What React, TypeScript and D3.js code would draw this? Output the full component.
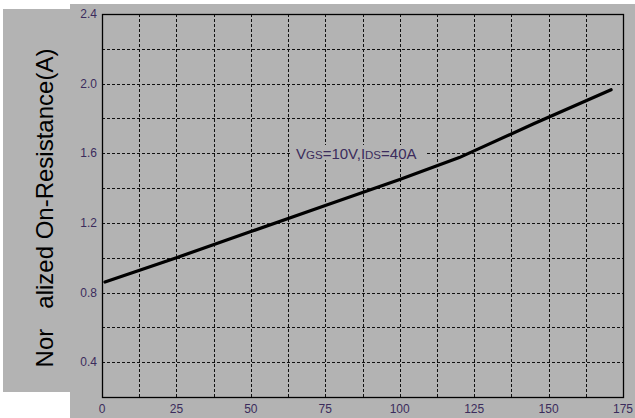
import React, { useEffect, useRef } from 'react';
import * as d3 from 'd3';

// data
const tempC = [1, 25, 50, 75, 100, 120, 145, 171];
const rdsNorm = [0.86, 1.0, 1.15, 1.3, 1.45, 1.575, 1.77, 1.965];
const xTicks = [0, 25, 50, 75, 100, 125, 150, 175];
const yTicks = [0.4, 0.8, 1.2, 1.6, 2.0, 2.4];
const xGrid = d3.range(0, 175.1, 12.5);
const yGrid = d3.range(0.2, 2.41, 0.2);

const W = 635;
const H = 418;
const m = { left: 102, top: 14, right: 623, bottom: 397 };
const bg = '#b3b3b3';
const labelColor = '#3b2c5c';

const App = () => {
  const svgRef = useRef<SVGSVGElement | null>(null);

  useEffect(() => {
    if (!svgRef.current) return;
    const svg = d3.select(svgRef.current);
    svg.selectAll('*').remove();

    const x = d3.scaleLinear().domain([0, 175]).range([m.left, m.right]);
    const y = d3.scaleLinear().domain([0.2, 2.4]).range([m.bottom, m.top]);

    // gray panels
    svg.append('rect').attr('x', 0).attr('y', 0).attr('width', W).attr('height', H).attr('fill', '#fff');
    svg.append('rect').attr('x', 70).attr('y', 4).attr('width', W - 70).attr('height', H - 4).attr('fill', bg);
    svg.append('rect').attr('x', 3).attr('y', 9).attr('width', 70).attr('height', 383).attr('fill', bg);

    // grid
    const grid = svg.append('g')
      .attr('stroke', '#111')
      .attr('stroke-width', 1)
      .attr('stroke-dasharray', '3,2')
      .attr('shape-rendering', 'crispEdges');
    grid.selectAll('line.v')
      .data(xGrid.slice(1, -1))
      .enter()
      .append('line')
      .attr('x1', d => Math.round(x(d)) + 0.5)
      .attr('x2', d => Math.round(x(d)) + 0.5)
      .attr('y1', m.top)
      .attr('y2', m.bottom);
    grid.selectAll('line.h')
      .data(yGrid.slice(1, -1))
      .enter()
      .append('line')
      .attr('x1', m.left)
      .attr('x2', m.right)
      .attr('y1', d => Math.round(y(d)) + 0.5)
      .attr('y2', d => Math.round(y(d)) + 0.5);

    // frame
    svg.append('rect')
      .attr('x', m.left + 0.5)
      .attr('y', m.top + 0.5)
      .attr('width', m.right - m.left)
      .attr('height', m.bottom - m.top)
      .attr('fill', 'none')
      .attr('stroke', '#000')
      .attr('stroke-width', 1.3);

    // tick labels
    svg.append('g')
      .selectAll('text')
      .data(xTicks)
      .enter()
      .append('text')
      .attr('x', d => x(d))
      .attr('y', 413)
      .attr('text-anchor', 'middle')
      .style('font-family', 'Arial, "Liberation Sans", sans-serif')
      .style('font-size', '12px')
      .style('fill', labelColor)
      .text(d => d);

    svg.append('g')
      .selectAll('text')
      .data(yTicks)
      .enter()
      .append('text')
      .attr('x', 97)
      .attr('y', d => y(d) + 4)
      .attr('text-anchor', 'end')
      .style('font-family', 'Arial, "Liberation Sans", sans-serif')
      .style('font-size', '12px')
      .style('fill', labelColor)
      .text(d => d.toFixed(1));

    // annotation with background
    svg.append('rect')
      .attr('x', 291).attr('y', 145).attr('width', 136).attr('height', 15)
      .attr('fill', bg);
    const ann = svg.append('text')
      .attr('x', 296)
      .attr('y', 159)
      .style('font-family', 'Arial, "Liberation Sans", sans-serif')
      .style('font-size', '15px')
      .style('fill', labelColor);
    ann.append('tspan').text('V');
    ann.append('tspan').style('font-size', '11.5px').text('GS');
    ann.append('tspan').text('=10V,I');
    ann.append('tspan').style('font-size', '11.5px').text('DS');
    ann.append('tspan').text('=40A');

    // curve
    const line = d3.line<number>()
      .x((_, i) => x(tempC[i]))
      .y(d => y(d));
    svg.append('path')
      .datum(rdsNorm)
      .attr('d', line)
      .attr('fill', 'none')
      .attr('stroke', '#000')
      .attr('stroke-width', 3.2)
      .attr('stroke-linecap', 'round');

    // y title
    svg.append('text')
      .attr('transform', 'translate(53,208) rotate(-90)')
      .attr('text-anchor', 'middle')
      .style('font-family', 'Arial, "Liberation Sans", sans-serif')
      .style('font-size', '24px')
      .style('fill', '#000')
      .style('white-space', 'pre')
      .text('Nor   alized On-Resistance(A)');
  }, []);

  return (
    <div style={{ position: 'absolute', left: 0, top: 0 }}>
      <svg ref={svgRef} width={W} height={H} style={{ display: 'block' }} />
    </div>
  );
};

export default App;
